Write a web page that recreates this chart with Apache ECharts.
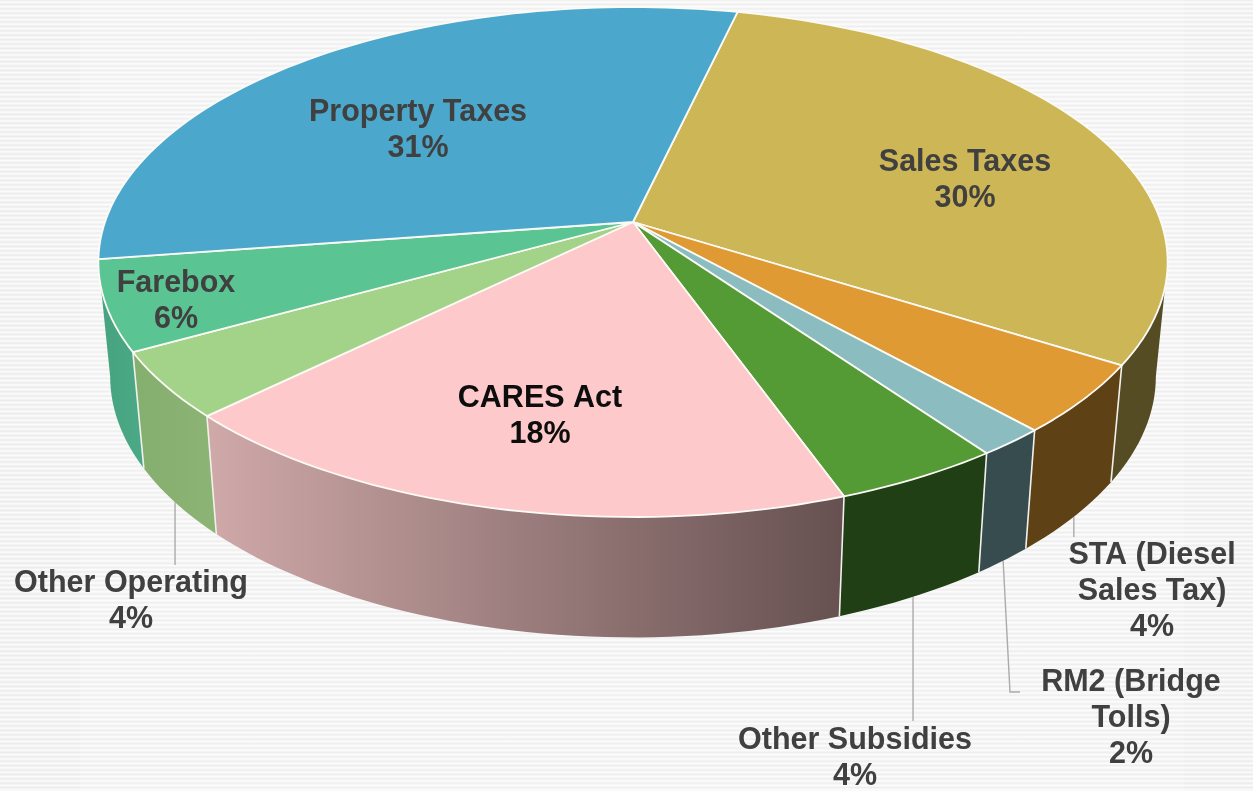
<!DOCTYPE html>
<html>
<head>
<meta charset="utf-8">
<title>Operating revenue by source</title>
<script src="https://cdn.jsdelivr.net/npm/echarts@6/dist/echarts.min.js"></script>
<style>
  html, body { margin: 0; padding: 0; width: 100%; height: 100%; overflow: hidden; }
  body { background: repeating-linear-gradient(#ebebeb 0, #fcfcfc 2.2px, #ebebeb 4.4px); }
  #inner {
    position: absolute; left: 80px; top: 0; width: 1104px; height: 791px;
    background: repeating-linear-gradient(#eeeeee 0, #fdfdfd 2.2px, #eeeeee 4.4px);
  }
  #chart { position: absolute; left: 0; top: 0; width: 1253px; height: 791px; }
</style>
</head>
<body>
<div id="inner"></div>
<div id="chart"></div>
<script>
// Revenue sources, clockwise from the Sales Taxes slice.
const categories = ['Sales Taxes', 'STA (Diesel\nSales Tax)', 'RM2 (Bridge\nTolls)', 'Other Subsidies', 'CARES Act', 'Other Operating', 'Farebox', 'Property Taxes'];
const shares = [30.2, 4.4, 1.8, 4.4, 18.3, 4.2, 5.7, 31.0];

const topColors = ['#CDB655', '#E09A33', '#8BBDC0', '#559B35', '#FDC9CA', '#A2D389', '#5AC493', '#4BA8CC'];
const wallFrom = ['#554C23', '#5E4114', '#374C4E', '#213F14', '#D0A9A9', '#85AF6E', '#45A47F', '#45A47F'];
const wallTo = ['#554C23', '#5E4114', '#374C4E', '#213F14', '#665050', '#8CB475', '#4BAA85', '#45A47F'];
const labelColors = ['#404040', '#404040', '#404040', '#404040', '#0D0D0D', '#404040', '#404040', '#404040'];

// Label anchor of each slice; inside labels have no leader.
const labelCenters = [[965, 181], [1152, 592], [1131, 719], [855, 759], [540, 417], [131, 602], [176, 302], [418, 131]];
// Leader polylines continue from the slice's lower rim through these points.
const leaderEnds = [[], [[null, 537]], [[1010, 692], [1020, 692]], [[null, 721]], [], [[null, 565]], [], []];

// Projection of the tilted disc.
const APEX_X = 633, APEX_Y = 222, R_X = 528, R_Y = 248.7, PERSP = 0.157;
const START_DEG = 13.2, LOWER_SCALE = 0.978;
// Rim angles of the widest points; the side wall only shows between them.
const WALL_MIN = Math.acos(-PERSP) * 180 / Math.PI, WALL_MAX = 360 - WALL_MIN;

const total = shares.reduce((a, b) => a + b, 0);
const startAngles = [];
shares.reduce((acc, v, i) => { startAngles[i] = acc; return acc + v / total * 360; }, START_DEG);

function rimTop(deg) {
  const t = deg * Math.PI / 180, s = Math.sin(t), c = Math.cos(t), w = 1 + PERSP * c;
  return [APEX_X + R_X * s / w, APEX_Y - R_Y * c / w];
}
function lowerOf(p) {
  return [APEX_X + LOWER_SCALE * (p[0] - APEX_X), p[1] + 108 + 0.024 * p[1]];
}
function arc(a0, a1) {
  const pts = [], n = Math.max(4, Math.ceil((a1 - a0) / 1.5));
  for (let i = 0; i <= n; i++) pts.push(rimTop(a0 + (a1 - a0) * i / n));
  return pts;
}
function sweep(i, value) {
  const a0 = startAngles[i];
  return [a0, a0 + value / total * 360];
}

function renderWall(params, api) {
  const i = params.dataIndex, [s0, s1] = sweep(i, api.value(0));
  const a0 = Math.max(s0, WALL_MIN), a1 = Math.min(s1, WALL_MAX);
  if (a1 <= a0) return { type: 'group', children: [] };
  const upper = arc(a0, a1), lower = upper.map(lowerOf).reverse();
  const children = [{
    type: 'polygon',
    shape: { points: upper.concat(lower) },
    style: {
      fill: new echarts.graphic.LinearGradient(0, 0, 1, 0, [
        { offset: 0, color: wallFrom[i] }, { offset: 1, color: wallTo[i] }
      ])
    }
  }];
  // Divider where this wall meets the previous one.
  if (s0 > WALL_MIN) {
    const p = rimTop(s0), q = lowerOf(p);
    children.push({
      type: 'line',
      shape: { x1: p[0], y1: p[1], x2: q[0], y2: q[1] },
      style: { stroke: '#F2F0EE', lineWidth: 1.6 },
      z2: 2
    });
  }
  return { type: 'group', children };
}

function renderTop(params, api) {
  const i = params.dataIndex, [a0, a1] = sweep(i, api.value(0));
  return {
    type: 'polygon',
    shape: { points: [[APEX_X, APEX_Y]].concat(arc(a0, a1)) },
    style: { fill: topColors[i], stroke: '#FBFAF6', lineWidth: 1.8, lineJoin: 'round' }
  };
}

function renderLeader(params, api) {
  const i = params.dataIndex, [a0, a1] = sweep(i, api.value(0));
  if (!leaderEnds[i].length) return { type: 'group', children: [] };
  const from = lowerOf(rimTop((a0 + a1) / 2));
  const pts = [from].concat(leaderEnds[i].map(p => [p[0] === null ? from[0] : p[0], p[1]]));
  return {
    type: 'polyline',
    shape: { points: pts },
    style: { stroke: '#ABABAB', lineWidth: 1.4, fill: null }
  };
}

function renderLabel(params, api) {
  const i = params.dataIndex;
  return {
    type: 'text',
    style: {
      text: categories[i] + '\n' + Math.round(api.value(0)) + '%',
      x: labelCenters[i][0],
      y: labelCenters[i][1],
      align: 'center',
      verticalAlign: 'middle',
      fontFamily: '"Liberation Sans", Arial, sans-serif',
      fontWeight: 'bold',
      fontSize: 30.5,
      lineHeight: 36,
      fill: labelColors[i]
    }
  };
}

const seriesBase = { type: 'custom', coordinateSystem: 'none', data: shares, silent: true, animation: false, clip: false };

const chart = echarts.init(document.getElementById('chart'), null, { renderer: 'canvas' });
chart.setOption({
  backgroundColor: 'transparent',
  animation: false,
  series: [
    Object.assign({}, seriesBase, { z: 1, renderItem: renderLeader }),
    Object.assign({}, seriesBase, { z: 2, renderItem: renderWall }),
    Object.assign({}, seriesBase, { z: 3, renderItem: renderTop }),
    Object.assign({}, seriesBase, { z: 4, renderItem: renderLabel })
  ]
});
</script>
</body>
</html>
